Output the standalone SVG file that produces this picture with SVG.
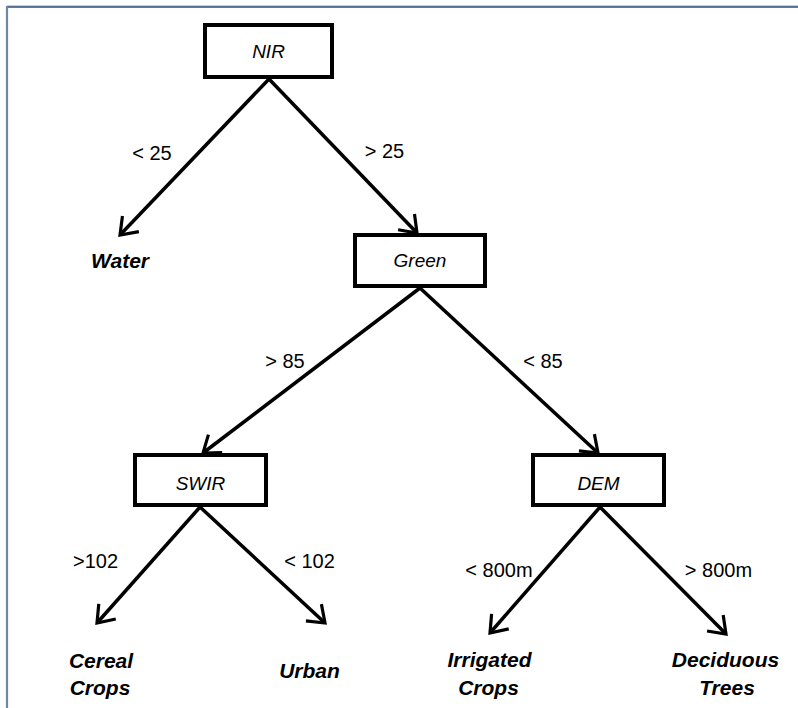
<svg xmlns="http://www.w3.org/2000/svg" width="798" height="708" viewBox="0 0 798 708">
<defs>
<marker id="arr" markerUnits="userSpaceOnUse" markerWidth="40" markerHeight="40" refX="0" refY="0" viewBox="-22 -20 44 40" orient="auto" overflow="visible">
<path d="M-17,-12.5 L0,0 L-17,12.5" fill="none" stroke="#000" stroke-width="3.5" stroke-linejoin="miter" stroke-linecap="butt"/>
</marker>
</defs>
<style>
.box{fill:#fff;stroke:#000;stroke-width:4}
.nt{font-family:"Liberation Sans",Arial,sans-serif;font-style:italic;font-size:19px;fill:#000;text-anchor:middle}
.lf{font-family:"Liberation Sans",Arial,sans-serif;font-style:italic;font-weight:bold;font-size:21px;fill:#000;text-anchor:middle}
.lb{font-family:"Liberation Sans",Arial,sans-serif;font-size:20px;fill:#000;text-anchor:middle}
.cn{stroke:#000;stroke-width:3.5;fill:none;marker-end:url(#arr)}
</style>
<rect x="0" y="0" width="798" height="708" fill="#fff"/>
<g id="frame">
<line x1="7" y1="6" x2="798" y2="6" stroke="#8aa0bf" stroke-width="1"/>
<line x1="7" y1="7" x2="798" y2="7" stroke="#2f4f7a" stroke-width="1.5"/>
<line x1="7" y1="6" x2="7" y2="708" stroke="#6f87a8" stroke-width="2.2"/>
</g>
<g id="connectors">
<line class="cn" x1="269" y1="79" x2="120" y2="235"/>
<line class="cn" x1="269" y1="79" x2="417" y2="233"/>
<line class="cn" x1="420" y1="288" x2="203" y2="453"/>
<line class="cn" x1="420" y1="288" x2="598" y2="453"/>
<line class="cn" x1="200" y1="507" x2="97" y2="623"/>
<line class="cn" x1="200" y1="507" x2="325" y2="623"/>
<line class="cn" x1="600" y1="507" x2="490" y2="633"/>
<line class="cn" x1="600" y1="507" x2="726" y2="634"/>
<text class="lb" x="152" y="160">&lt; 25</text>
<text class="lb" x="384.5" y="158">&gt; 25</text>
<text class="lb" x="285" y="368">&gt; 85</text>
<text class="lb" x="543" y="368">&lt; 85</text>
<text class="lb" x="95.5" y="568">&gt;102</text>
<text class="lb" x="309.5" y="568">&lt; 102</text>
<text class="lb" x="499" y="577">&lt; 800m</text>
<text class="lb" x="718.5" y="577">&gt; 800m</text>
</g>
<g id="nir"><rect class="box" x="205" y="25" width="127" height="52"/><text class="nt" x="268.5" y="58">NIR</text></g>
<g id="green"><rect class="box" x="355" y="235" width="130" height="51"/><text class="nt" x="420" y="267">Green</text></g>
<g id="swir"><rect class="box" x="135" y="455" width="131" height="50"/><text class="nt" x="200.5" y="490">SWIR</text></g>
<g id="dem"><rect class="box" x="533" y="455" width="131" height="50"/><text class="nt" x="598.5" y="490">DEM</text></g>
<g id="water"><text class="lf" x="120" y="268">Water</text></g>
<g id="cereal"><text class="lf" x="101" y="668">Cereal</text><text class="lf" x="100" y="695">Crops</text></g>
<g id="urban"><text class="lf" x="309.5" y="678">Urban</text></g>
<g id="irrigated"><text class="lf" x="489.5" y="667">Irrigated</text><text class="lf" x="488.5" y="695">Crops</text></g>
<g id="deciduous"><text class="lf" x="725.5" y="667">Deciduous</text><text class="lf" x="727" y="695">Trees</text></g>
</svg>
